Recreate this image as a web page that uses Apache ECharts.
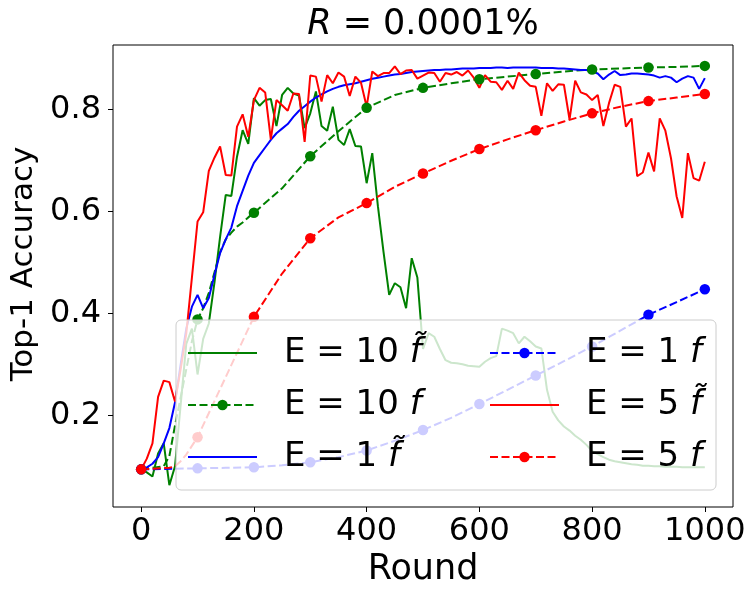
<!DOCTYPE html>
<html>
<head>
<meta charset="utf-8">
<script src="https://cdn.jsdelivr.net/npm/echarts@6/dist/echarts.min.js"></script>
<style>
  html, body { margin: 0; padding: 0; background: #fff; }
  #main { width: 756px; height: 599px; }
</style>
</head>
<body>
<div id="main"></div>
<script>
// evaluation rounds of the noisy (solid) runs
const evalRounds = [0, 10, 20, 30, 40, 50, 60, 70, 80, 90, 100, 110, 120, 130, 140, 150, 160, 170, 180, 190,
  200, 210, 220, 230, 240, 250, 260, 270, 280, 290, 300, 310, 320, 330, 340, 350, 360, 370, 380, 390,
  400, 410, 420, 430, 440, 450, 460, 470, 480, 490, 500, 510, 520, 530, 540, 550, 560, 570, 580, 590,
  600, 610, 620, 630, 640, 650, 660, 670, 680, 690, 700, 710, 720, 730, 740, 750, 760, 770, 780, 790,
  800, 810, 820, 830, 840, 850, 860, 870, 880, 890, 900, 910, 920, 930, 940, 950, 960, 970, 980, 990, 1000];

// E = 10, f tilde
const e10Tilde = [0.094, 0.088, 0.080, 0.125, 0.145, 0.063, 0.100, 0.220, 0.340, 0.370, 0.280, 0.350, 0.380, 0.460, 0.550, 0.632, 0.630, 0.707, 0.759, 0.732,
  0.822, 0.807, 0.818, 0.820, 0.767, 0.828, 0.842, 0.831, 0.827, 0.763, 0.792, 0.835, 0.767, 0.758, 0.805, 0.740, 0.730, 0.761, 0.728, 0.727,
  0.655, 0.714, 0.610, 0.520, 0.436, 0.459, 0.451, 0.410, 0.508, 0.470, 0.330, 0.361, 0.354, 0.330, 0.308, 0.303, 0.302, 0.300, 0.297, 0.296,
  0.295, 0.305, 0.312, 0.316, 0.370, 0.366, 0.361, 0.341, 0.354, 0.345, 0.335, 0.331, 0.250, 0.207, 0.190, 0.178, 0.170, 0.160, 0.152, 0.142,
  0.130, 0.124, 0.118, 0.113, 0.110, 0.108, 0.106, 0.104, 0.103, 0.101, 0.101, 0.100, 0.100, 0.099, 0.099, 0.099, 0.098, 0.098, 0.098, 0.098, 0.098];

// E = 1, f tilde
const e1Tilde = [0.094, 0.098, 0.105, 0.118, 0.145, 0.175, 0.225, 0.300, 0.370, 0.413, 0.436, 0.410, 0.430, 0.475, 0.518, 0.545, 0.568, 0.610, 0.640, 0.670,
  0.695, 0.710, 0.725, 0.740, 0.753, 0.762, 0.771, 0.785, 0.797, 0.806, 0.815, 0.823, 0.829, 0.835, 0.840, 0.844, 0.847, 0.849, 0.851, 0.854,
  0.857, 0.860, 0.862, 0.864, 0.866, 0.868, 0.869, 0.871, 0.873, 0.874, 0.875, 0.876, 0.877, 0.877, 0.878, 0.878, 0.879, 0.880, 0.880, 0.880,
  0.881, 0.881, 0.881, 0.882, 0.882, 0.881, 0.882, 0.882, 0.882, 0.882, 0.882, 0.881, 0.881, 0.881, 0.880, 0.880, 0.879, 0.878, 0.877, 0.877,
  0.874, 0.870, 0.859, 0.868, 0.875, 0.867, 0.868, 0.870, 0.870, 0.869, 0.868, 0.866, 0.862, 0.865, 0.862, 0.853, 0.860, 0.865, 0.862, 0.840, 0.861];

// E = 5, f tilde
const e5Tilde = [0.094, 0.115, 0.145, 0.236, 0.268, 0.265, 0.227, 0.290, 0.360, 0.470, 0.580, 0.598, 0.679, 0.705, 0.727, 0.671, 0.670, 0.766, 0.790, 0.746,
  0.818, 0.842, 0.833, 0.741, 0.818, 0.808, 0.797, 0.831, 0.830, 0.736, 0.866, 0.864, 0.815, 0.867, 0.851, 0.872, 0.864, 0.826, 0.864, 0.852,
  0.805, 0.874, 0.865, 0.871, 0.871, 0.884, 0.869, 0.876, 0.877, 0.860, 0.866, 0.872, 0.871, 0.854, 0.871, 0.868, 0.873, 0.866, 0.876, 0.862,
  0.842, 0.867, 0.854, 0.853, 0.838, 0.856, 0.840, 0.872, 0.857, 0.846, 0.844, 0.787, 0.851, 0.836, 0.849, 0.848, 0.780, 0.856, 0.833, 0.829,
  0.818, 0.828, 0.767, 0.812, 0.848, 0.844, 0.766, 0.782, 0.669, 0.676, 0.715, 0.678, 0.782, 0.758, 0.704, 0.629, 0.587, 0.714, 0.665, 0.660, 0.697];

// rounds that carry a marker on the dashed runs
const markerRounds = [0, 100, 200, 300, 400, 500, 600, 700, 800, 900, 1000];

// E = 10, f
const e10Rounds = [0, 40, 50, 60, 70, 80, 90, 100, 110, 120, 130, 140, 150, 160, 170, 180, 190, 200, 250, 300, 350, 400, 450, 500, 550, 600, 650, 700, 750, 800, 850, 900, 950, 1000];
const e10Acc = [0.094, 0.100, 0.120, 0.180, 0.235, 0.290, 0.345, 0.388, 0.410, 0.440, 0.480, 0.520, 0.545, 0.558, 0.570, 0.578, 0.588, 0.597, 0.645, 0.708, 0.757, 0.803, 0.828, 0.842, 0.851, 0.859, 0.864, 0.869, 0.874, 0.878, 0.880, 0.882, 0.883, 0.885];

// E = 1, f
const e1Rounds = [0, 100, 150, 200, 250, 300, 350, 400, 450, 500, 550, 600, 650, 700, 750, 800, 850, 900, 950, 1000];
const e1Acc = [0.094, 0.096, 0.097, 0.098, 0.102, 0.108, 0.118, 0.131, 0.150, 0.171, 0.195, 0.222, 0.250, 0.278, 0.306, 0.335, 0.366, 0.397, 0.422, 0.447];

// E = 5, f
const e5Rounds = [0, 50, 60, 70, 80, 90, 100, 150, 200, 250, 300, 350, 400, 450, 500, 550, 600, 650, 700, 750, 800, 850, 900, 950, 1000];
const e5Acc = [0.094, 0.097, 0.100, 0.110, 0.123, 0.140, 0.157, 0.275, 0.393, 0.478, 0.547, 0.588, 0.616, 0.648, 0.674, 0.699, 0.722, 0.741, 0.759, 0.776, 0.792, 0.805, 0.816, 0.823, 0.830];

const xTicks = [0, 200, 400, 600, 800, 1000];
const yTicks = [0.2, 0.4, 0.6, 0.8];

const seriesNames = ['E = 10 f̃', 'E = 10 f', 'E = 1 f̃', 'E = 1 f', 'E = 5 f̃', 'E = 5 f'];
const solidNames = [seriesNames[0], seriesNames[2], seriesNames[4]];

const FONT = 'DejaVu Sans';
const DASH = [8, 3.5];

function pairs(rounds, vals) {
  return rounds.map((r, i) => [r, vals[i]]);
}
function markedPairs(rounds, vals) {
  return rounds.map((r, i) => ({
    value: [r, vals[i]],
    symbol: markerRounds.indexOf(r) >= 0 ? 'circle' : 'none'
  }));
}

function solid(name, color, data) {
  return {
    name: name, type: 'line', data: data, symbol: 'none',
    lineStyle: { color: color, width: 2 }, itemStyle: { color: color },
    animation: false, silent: true
  };
}
function dashed(name, color, data) {
  return {
    name: name, type: 'line', data: data, symbol: 'circle', symbolSize: 10.5,
    showAllSymbol: true,
    lineStyle: { color: color, width: 2, type: DASH }, itemStyle: { color: color },
    animation: false, silent: true
  };
}

// legend label: plain part + italic f (with tilde)
function legendLabel(name) {
  const k = name.lastIndexOf(' ');
  return '{n|' + name.slice(0, k + 1) + '}{i|' + name.slice(k + 1) + '}';
}
const legendText = {
  color: '#000', fontFamily: FONT, fontSize: 34, lineHeight: 40,
  padding: [0, 0, 0, 22],
  rich: {
    n: { fontFamily: FONT, fontSize: 34, lineHeight: 40, color: '#000' },
    i: { fontFamily: FONT, fontSize: 34, lineHeight: 40, color: '#000', fontStyle: 'italic' }
  }
};
function legendData(names) {
  // solid runs show no marker in their legend handle
  return names.map(n => solidNames.indexOf(n) >= 0 ? { name: n, itemStyle: { opacity: 0 } } : { name: n });
}

const myChart = echarts.init(document.getElementById('main'), null, { renderer: 'canvas' });

const option = {
  backgroundColor: '#fff',
  title: {
    text: '{i|R}{n| = 0.0001%}',
    left: 423, top: 7, textAlign: 'center', padding: 0,
    textStyle: {
      fontFamily: FONT, fontSize: 35, color: '#000', fontWeight: 'normal',
      rich: {
        i: { fontFamily: FONT, fontSize: 35, color: '#000', fontStyle: 'italic' },
        n: { fontFamily: FONT, fontSize: 35, color: '#000' }
      }
    }
  },
  grid: {
    left: 113, right: 23, top: 45, bottom: 92,
    show: true, borderColor: '#000', borderWidth: 1, backgroundColor: 'transparent'
  },
  xAxis: {
    type: 'value', min: -50, max: 1050,
    name: 'Round', nameLocation: 'middle', nameGap: 45,
    nameTextStyle: { fontFamily: FONT, fontSize: 35, color: '#000' },
    axisLine: { show: false, onZero: false },
    axisTick: { show: true, customValues: xTicks, length: 5, lineStyle: { color: '#000', width: 1 } },
    axisLabel: {
      customValues: xTicks, fontFamily: FONT, fontSize: 32, color: '#000', margin: 9,
      formatter: v => String(v)
    },
    splitLine: { show: false }
  },
  yAxis: {
    type: 'value', min: 0.0202, max: 0.926,
    name: 'Top-1 Accuracy', nameLocation: 'middle', nameGap: 67,
    nameTextStyle: { fontFamily: FONT, fontSize: 31, color: '#000', padding: [0, 0, 0, 24] },
    axisLine: { show: false, onZero: false },
    axisTick: { show: true, customValues: yTicks, length: 5, lineStyle: { color: '#000', width: 1 } },
    axisLabel: {
      customValues: yTicks, fontFamily: FONT, fontSize: 32, color: '#000', margin: 12,
      formatter: v => v.toFixed(1)
    },
    splitLine: { show: false }
  },
  legend: [
    {
      data: legendData(seriesNames.slice(0, 3)), orient: 'vertical', left: 187, top: 333,
      itemWidth: 69, itemHeight: 13, itemGap: 12, padding: 0, zlevel: 1, z: 4,
      textStyle: legendText, formatter: legendLabel, selectedMode: false
    },
    {
      data: legendData(seriesNames.slice(3)), orient: 'vertical', left: 489, top: 333,
      itemWidth: 69, itemHeight: 13, itemGap: 12, padding: 0, zlevel: 1, z: 4,
      textStyle: legendText, formatter: legendLabel, selectedMode: false
    }
  ],
  graphic: [
    {
      type: 'rect', zlevel: 1, z: 1, silent: true,
      shape: { x: 176, y: 320, width: 540, height: 170, r: 5 },
      style: { fill: 'rgba(255,255,255,0.8)', stroke: '#cccccc', lineWidth: 1 }
    }
  ],
  series: [
    solid(seriesNames[0], '#008000', pairs(evalRounds, e10Tilde)),
    dashed(seriesNames[1], '#008000', markedPairs(e10Rounds, e10Acc)),
    solid(seriesNames[2], '#0000ff', pairs(evalRounds, e1Tilde)),
    dashed(seriesNames[3], '#0000ff', markedPairs(e1Rounds, e1Acc)),
    solid(seriesNames[4], '#ff0000', pairs(evalRounds, e5Tilde)),
    dashed(seriesNames[5], '#ff0000', markedPairs(e5Rounds, e5Acc))
  ]
};

myChart.setOption(option);
</script>
</body>
</html>
